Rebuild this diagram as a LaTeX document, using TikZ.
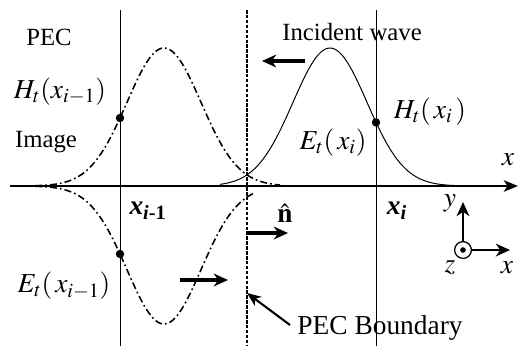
\documentclass[tikz,border=0pt]{standalone}
\usepackage{mathptmx}
\usepackage{fontspec}
\setmainfont{Liberation Serif}
\usetikzlibrary{arrows.meta}
\tikzset{
  font=\fontsize{17.6}{20}\selectfont,
  lbl/.style={inner sep=0pt},
  mlbl/.style={lbl, font=\fontsize{19.5}{22}\selectfont},
  wave/.style={line width=0.7pt},
  image/.style={line width=1.1pt, dash pattern=on 5pt off 2.2pt on 1.2pt off 2.2pt},
  cell/.style={line width=0.7pt},
  boundary/.style={line width=1pt, dash pattern=on 2.5pt off 1pt},
  axis/.style={-{Stealth[length=10pt,width=8pt,inset=2.5pt]}, line width=1.8pt},
  move/.style={-{Stealth[length=10pt,width=9pt,inset=3pt]}, line width=2.2pt},
  pointer/.style={-{Stealth[length=10pt,width=8pt,inset=3pt]}, line width=1.5pt},
  probe/.style={circle, fill, inner sep=0pt, minimum size=6pt},
}
\begin{document}
\begin{tikzpicture}
\useasboundingbox (0,-4) rectangle (13.025,4.65);
% grid lines and PEC boundary
\coordinate (c1t) at (3,4.4); \coordinate (c1b) at (3,-4);
\coordinate (c2t) at (9.4,4.4); \coordinate (c2b) at (9.4,-4);
\coordinate (pect) at (6.175,4.4); \coordinate (pecb) at (6.175,-4);
\draw[cell] (c1t) -- (c1b);
\draw[cell] (c2t) -- (c2b);
\draw[boundary] (pect) -- (pecb);
% x axis
\coordinate (ax0) at (0.25,0); \coordinate (ax1) at (12.95,0);
\draw[axis] (ax0) -- (ax1);
\node[mlbl] (xlab) at (12.7,0.65) {$x$};
% incident wave
\draw[wave] plot[domain=5.5:11.4, samples=90, smooth] (\x,{3.45*exp(((\x-8.25)^2)/(-1.711))});
% image wave, H above and E below
\draw[image] plot[domain=0.875:7.0, samples=90, smooth] (\x,{3.45*exp(((\x-4.1)^2)/(-1.711))});
\draw[image] plot[domain=0.875:6.35, samples=90, smooth] (\x,{-3.45*exp(((\x-4.1)^2)/(-1.711))});
% sample points
\node[probe] (Hm) at (3,1.7) {};
\node[probe] (Em) at (3,-1.7) {};
\node[probe] (Hi) at (9.4,1.59) {};
% labels
\node[lbl] (pec) at (1.225,3.725) {PEC};
\node[lbl] (img) at (1.15,1.1) {Image};
\node[mlbl] (Hmlab) at (1.5,2.35) {$H_t(x_{i-1})$};
\node[mlbl] (Emlab) at (1.6,-2.5) {$E_t(\,x_{i-1})$};
\node[mlbl] (Hilab) at (10.75,1.85) {$H_t(\,x_i\,)$};
\node[mlbl] (Eilab) at (8.325,1.075) {$E_t(\,x_i)$};
\node[mlbl] (xm) at (3.7,-0.625) {\textbf{\textit{x}}\textsubscript{\textbf{\textit{i}}\textbf{-1}}};
\node[mlbl] (xi) at (9.925,-0.625) {\textbf{\textit{x}}\textsubscript{\textbf{\textit{i}}}};
\node[lbl] (inc) at (8.8,3.85) {Incident wave};
\node[mlbl] (nlab) at (7.125,-0.68) {$\hat{\mathbf{n}}$};
% wave directions
\coordinate (inc0) at (7.625,3.125); \coordinate (inc1) at (6.55,3.125);
\draw[move] (inc0) -- (inc1);
\coordinate (img0) at (4.5,-2.35); \coordinate (img1) at (5.7,-2.35);
\draw[move] (img0) -- (img1);
\coordinate (n0) at (6.2,-1.175); \coordinate (n1) at (7.2,-1.175);
\draw[move] (n0) -- (n1);
% boundary pointer
\node[lbl, font=\fontsize{19.5}{22}\selectfont] (pecbd) at (9.5,-3.55) {PEC Boundary};
\coordinate (ptr0) at (7.25,-3.475); \coordinate (ptr1) at (6.175,-2.675);
\draw[pointer] (ptr0) -- (ptr1);
% coordinate frame
\node[circle, draw, line width=0.9pt, minimum size=0.42cm, inner sep=0pt] (zax) at (11.575,-1.6) {};
\node[circle, fill, inner sep=0pt, minimum size=4pt] (zdot) at (zax) {};
\coordinate (yend) at (11.575,-0.4); \coordinate (xend) at (12.75,-1.6);
\draw[move, line width=1.8pt] (zax.north) -- (yend);
\draw[move, line width=1.8pt] (zax.east) -- (xend);
\node[mlbl] (ylab) at (11.25,-0.425) {$y$};
\node[mlbl] (zlab) at (11.25,-2.05) {$z$};
\node[mlbl] (xlab2) at (12.675,-2.05) {$x$};
\end{tikzpicture}
\end{document}
